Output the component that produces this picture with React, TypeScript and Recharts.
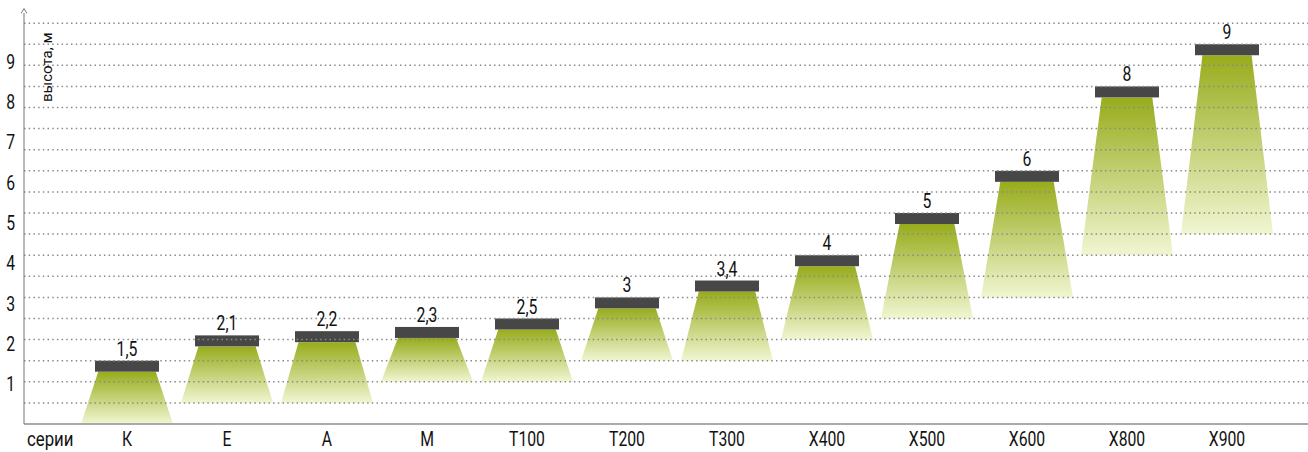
import React from 'react';
import { ComposedChart, Bar, XAxis, YAxis, ReferenceLine, LabelList } from 'recharts';

const categories = ['К', 'Е', 'А', 'М', 'Т100', 'Т200', 'Т300', 'Х400', 'Х500', 'Х600', 'Х800', 'Х900'];
const lampHeights = [1.5, 2.1, 2.2, 2.3, 2.5, 3, 3.4, 4, 5, 6, 8, 9];
const beamBottoms = [0, 0.5, 0.5, 1, 1, 1.5, 1.5, 2, 2.5, 3, 4, 4.5];
const valueLabels = ['1,5', '2,1', '2,2', '2,3', '2,5', '3', '3,4', '4', '5', '6', '8', '9'];
const yTickValues = [1, 2, 3, 4, 5, 6, 7, 8, 9];
const gridLevels = [0.5, 1, 1.5, 2, 2.5, 3, 3.5, 4, 4.5, 5, 5.5, 6, 6.5, 7, 7.5, 8, 8.5, 9, 9.5];

const data = categories.map((cat, i) => ({
  cat,
  lamp: lampHeights[i],
  beam: [beamBottoms[i], lampHeights[i]],
  label: valueLabels[i],
}));

const FONT = "Roboto, 'Noto Sans', sans-serif";
const TEXT = '#111111';
const LAMP_H = 11;
const LAMP_W = 64;

const CondText = ({ x, y, anchor = 'middle', size = 21, sx = 0.75, children }: any) => (
  <text
    transform={`translate(${x},${y}) scale(${sx},1)`}
    x={0}
    y={0}
    textAnchor={anchor}
    fontSize={size}
    fill={TEXT}
    fontFamily={FONT}
  >
    {children}
  </text>
);

const Beam = (props: any) => {
  const { x, y, width, height } = props;
  const yTop = Math.min(y, y + height);
  const yBot = Math.max(y, y + height);
  const top = yTop + LAMP_H;
  const h = yBot - top;
  if (h <= 0) return null;
  const lampInset = (width - LAMP_W) / 2;
  const inset = lampInset + 1.5 + h * 0.033;
  const d = `M${x + inset},${top} L${x + width - inset},${top} L${x + width},${yBot} L${x},${yBot} Z`;
  return <path d={d} fill="url(#beamGrad)" />;
};

const Lamp = (props: any) => {
  const { x, y, width, height } = props;
  const yTop = Math.min(y, y + height);
  const inset = (width - LAMP_W) / 2;
  return <rect x={x + inset} y={yTop} width={LAMP_W} height={LAMP_H} fill="#474747" />;
};

const Nothing = () => null;

const CatTick = (p: any) => <CondText x={p.x} y={p.y + 22}>{p.payload.value}</CondText>;

const ValTick = (p: any) => (
  <CondText x={p.x} y={p.y + 7.5} anchor="end">
    {p.payload.value}
  </CondText>
);

const ValueLabel = (p: any) => (
  <CondText x={p.x + p.width / 2} y={Math.min(p.y, p.y + p.height) - 5}>
    {p.value}
  </CondText>
);

const SeriesLabel = (p: any) => {
  const vb = p.viewBox || { x: 24, y: 424 };
  return (
    <CondText x={vb.x + 3} y={vb.y + 22} anchor="start" sx={0.8}>
      серии
    </CondText>
  );
};

const HeightLabel = (p: any) => {
  const vb = p.viewBox || { x: 0, y: 13, width: 24 };
  const x = vb.x + vb.width + 28;
  const y = vb.y + 89;
  return (
    <text
      x={x}
      y={y}
      transform={`rotate(-90, ${x}, ${y})`}
      textAnchor="start"
      fontSize={15}
      fill={TEXT}
      fontFamily={FONT}
    >
      высота, м
    </text>
  );
};

export default function App() {
  return (
    <div style={{ position: 'absolute', left: 0, top: 0, width: 1308, height: 452, background: '#fff' }}>
      <ComposedChart width={1308} height={452} data={data} margin={{ top: 13, right: 0, bottom: 0, left: 0 }}>
        <defs>
          <linearGradient id="beamGrad" x1="0" y1="0" x2="0" y2="1">
            <stop offset="0%" stopColor="#98ac1c" />
            <stop offset="100%" stopColor="#f1f6d2" />
          </linearGradient>
          <marker
            id="axisArrow"
            viewBox="0 0 6 6"
            refX="0.5"
            refY="3"
            markerWidth="6"
            markerHeight="6"
            markerUnits="userSpaceOnUse"
            orient="auto-start-reverse"
          >
            <path d="M0,0 L5,3 L0,6" fill="none" stroke="#777" strokeWidth="1" />
          </marker>
        </defs>
        <XAxis
          xAxisId="cat"
          dataKey="cat"
          padding={{ left: 53, right: 31 }}
          axisLine={{ stroke: '#aaaaaa', strokeWidth: 2 }}
          tickLine={false}
          tickSize={0}
          tickMargin={0}
          height={28}
          interval={0}
          tick={<CatTick />}
          label={<SeriesLabel />}
        />
        <XAxis xAxisId="lamp" dataKey="cat" padding={{ left: 53, right: 31 }} hide />
        <XAxis xAxisId="dummy" dataKey="cat" padding={{ left: 53, right: 31 }} hide />
        <YAxis yAxisId="v" type="number" domain={[0, 9.74]} hide allowDataOverflow />
        <YAxis
          yAxisId="labels"
          type="number"
          domain={[0, 10.2]}
          allowDataOverflow
          ticks={yTickValues}
          interval={0}
          width={24}
          tickSize={0}
          tickMargin={9}
          tickLine={false}
          axisLine={{ stroke: '#777777', strokeWidth: 1, markerStart: 'url(#axisArrow)' }}
          tick={<ValTick />}
          label={<HeightLabel />}
        />
        <Bar xAxisId="dummy" yAxisId="labels" dataKey="lamp" shape={<Nothing />} isAnimationActive={false} />
        <Bar xAxisId="cat" yAxisId="v" dataKey="beam" barSize={92} shape={<Beam />} isAnimationActive={false} />
        {gridLevels.map((v) => (
          <ReferenceLine
            key={v}
            xAxisId="cat"
            yAxisId="v"
            y={v}
            stroke="#8a8a8a"
            strokeWidth={1.5}
            strokeDasharray="1.5 3.2"
          />
        ))}
        <Bar xAxisId="lamp" yAxisId="v" dataKey="lamp" barSize={92} shape={<Lamp />} isAnimationActive={false}>
          <LabelList dataKey="label" content={<ValueLabel />} />
        </Bar>
      </ComposedChart>
    </div>
  );
}
